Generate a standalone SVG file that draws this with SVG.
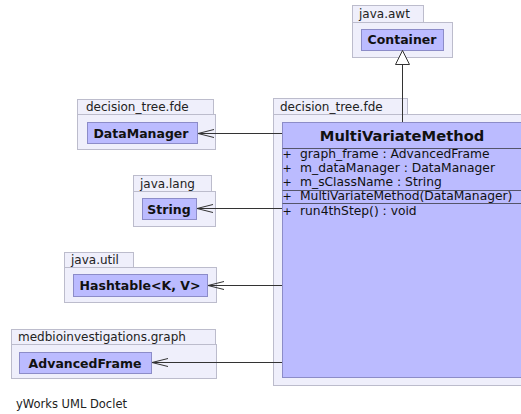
<svg xmlns="http://www.w3.org/2000/svg" width="521" height="414" viewBox="0 0 521 414">
  <style>
    .pkg { fill: #efeffb; stroke: #bcbccc; stroke-width: 1; }
    .cls { fill: #bbbbff; stroke: #8c8cc8; stroke-width: 1; }
    .sep { stroke: #55556a; stroke-width: 1; }
    .edge { stroke: #333333; stroke-width: 1; fill: none; }
    .plabel { font-family: "DejaVu Sans", sans-serif; font-size: 12px; fill: #222222; }
    .cname { font-family: "DejaVu Sans", sans-serif; font-size: 12.5px; font-weight: bold; fill: #111111; text-anchor: middle; }
    .title { font-family: "DejaVu Sans", sans-serif; font-size: 14.7px; font-weight: bold; fill: #111111; text-anchor: middle; }
    .member { font-family: "DejaVu Sans", sans-serif; font-size: 12.3px; fill: #111111; }
    .vis { font-family: "DejaVu Sans", sans-serif; font-size: 11px; fill: #111111; text-anchor: middle; }
    .foot { font-family: "DejaVu Sans", sans-serif; font-size: 11.5px; fill: #222222; }
  </style>
  <defs>
    <marker id="open" markerUnits="userSpaceOnUse" markerWidth="20" markerHeight="12" viewBox="-17 -6 18 12" refX="0" refY="0" orient="auto">
      <path d="M-16,-4 L0,0 L-16,4" fill="none" stroke="#333333" stroke-width="1"/>
    </marker>
    <marker id="inherit" markerUnits="userSpaceOnUse" markerWidth="18" markerHeight="18" viewBox="-16 -9 18 18" refX="0" refY="0" orient="auto">
      <path d="M-14,-7 L0,0 L-14,7 Z" fill="#ffffff" stroke="#333333" stroke-width="1"/>
    </marker>
  </defs>

  <rect width="521" height="414" fill="#ffffff"/>

  <!-- package java.awt -->
  <g id="pkg-java-awt">
    <rect class="pkg" x="352.5" y="5.5" width="71" height="17"/>
    <rect class="pkg" x="352.5" y="22.5" width="100" height="35"/>
    <text class="plabel" x="359" y="18">java.awt</text>
  </g>
  <g id="Container">
    <rect class="cls" x="361.5" y="29.5" width="82" height="21"/>
    <text class="cname" x="402" y="44">Container</text>
  </g>

  <!-- package decision_tree.fde (left) -->
  <g id="pkg-decision-tree-left">
    <rect class="pkg" x="77.5" y="99.5" width="136" height="15"/>
    <rect class="pkg" x="77.5" y="114.5" width="138" height="35"/>
    <text class="plabel" x="86" y="111">decision_tree.fde</text>
  </g>
  <g id="DataManager">
    <rect class="cls" x="87.5" y="122.5" width="110" height="21"/>
    <text class="cname" x="141" y="138">DataManager</text>
  </g>

  <!-- package java.lang -->
  <g id="pkg-java-lang">
    <rect class="pkg" x="133.5" y="175.5" width="78" height="16"/>
    <rect class="pkg" x="133.5" y="191.5" width="82" height="35"/>
    <text class="plabel" x="140" y="188">java.lang</text>
  </g>
  <g id="String">
    <rect class="cls" x="142.5" y="198.5" width="54" height="21"/>
    <text class="cname" x="169" y="214">String</text>
  </g>

  <!-- package java.util -->
  <g id="pkg-java-util">
    <rect class="pkg" x="64.5" y="252.5" width="69" height="15"/>
    <rect class="pkg" x="64.5" y="267.5" width="152" height="35"/>
    <text class="plabel" x="71" y="264">java.util</text>
  </g>
  <g id="Hashtable">
    <rect class="cls" x="73.5" y="274.5" width="134" height="22"/>
    <text class="cname" x="140" y="290">Hashtable&lt;K, V&gt;</text>
  </g>

  <!-- package medbioinvestigations.graph -->
  <g id="pkg-medbio-graph">
    <rect class="pkg" x="11.5" y="329.5" width="204" height="15"/>
    <rect class="pkg" x="11.5" y="344.5" width="205" height="34"/>
    <text class="plabel" x="18" y="341">medbioinvestigations.graph</text>
  </g>
  <g id="AdvancedFrame">
    <rect class="cls" x="19.5" y="352.5" width="132" height="21"/>
    <text class="cname" x="85" y="368">AdvancedFrame</text>
  </g>

  <!-- package decision_tree.fde (right) -->
  <g id="pkg-decision-tree-right">
    <rect class="pkg" x="273.5" y="98.5" width="134" height="16"/>
    <rect class="pkg" x="273.5" y="114.5" width="260" height="271"/>
    <text class="plabel" x="280" y="111">decision_tree.fde</text>
  </g>

  <!-- class MultiVariateMethod -->
  <g id="MultiVariateMethod">
    <rect class="cls" x="282.5" y="122.5" width="240" height="255"/>
    <text class="title" x="402" y="141">MultiVariateMethod</text>
    <line class="sep" x1="282.5" y1="148.5" x2="522" y2="148.5"/>
    <text class="vis" x="287" y="158">+</text>
    <text class="member" x="300" y="158">graph_frame : AdvancedFrame</text>
    <text class="vis" x="287" y="172">+</text>
    <text class="member" x="300" y="172">m_dataManager : DataManager</text>
    <text class="vis" x="287" y="186">+</text>
    <text class="member" x="300" y="186">m_sClassName : String</text>
    <line class="sep" x1="282.5" y1="190.5" x2="522" y2="190.5"/>
    <text class="vis" x="287" y="200">+</text>
    <text class="member" x="300" y="200">MultiVariateMethod(DataManager)</text>
    <line class="sep" x1="282.5" y1="203.5" x2="522" y2="203.5"/>
    <text class="vis" x="287" y="215">+</text>
    <text class="member" x="300" y="215">run4thStep() : void</text>
  </g>

  <!-- connectors -->
  <g id="edges">
    <line class="edge" x1="402.5" y1="122" x2="402.5" y2="50.5" marker-end="url(#inherit)"/>
    <line class="edge" x1="282" y1="133.5" x2="198" y2="133.5" marker-end="url(#open)"/>
    <line class="edge" x1="282" y1="208.5" x2="197" y2="208.5" marker-end="url(#open)"/>
    <line class="edge" x1="282" y1="285.5" x2="208" y2="285.5" marker-end="url(#open)"/>
    <line class="edge" x1="282" y1="362.5" x2="152" y2="362.5" marker-end="url(#open)"/>
  </g>

  <text class="foot" x="16" y="408">yWorks UML Doclet</text>
</svg>
